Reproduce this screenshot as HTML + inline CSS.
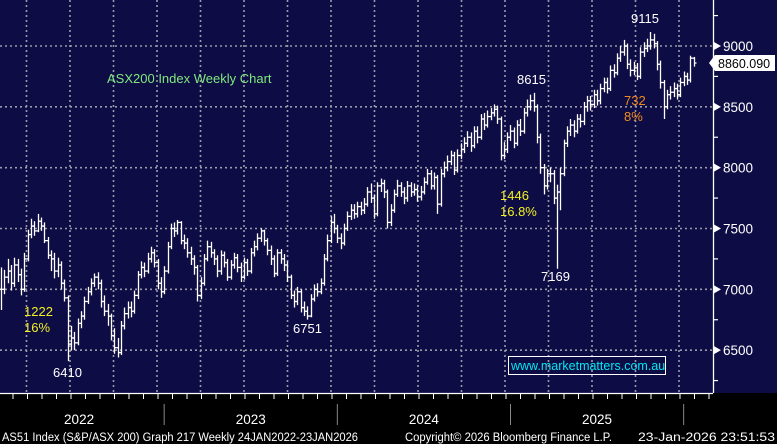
<!DOCTYPE html>
<html><head><meta charset="utf-8"><style>
html,body{margin:0;padding:0;background:#000;}
svg{display:block;font-family:"Liberation Sans",sans-serif;}
</style></head><body>
<svg id="chart" width="777" height="444" viewBox="0 0 777 444" xmlns="http://www.w3.org/2000/svg">
<rect x="0" y="0" width="777" height="444" fill="#000"/>
<rect x="0" y="0" width="777" height="393" fill="#0e0c45"/>
<g id="grid"></g>
<g id="bars"></g>
<g id="yaxis"></g>
<g id="xaxis"></g>
<text x="107" y="83" fill="#7ee87e" font-size="13">ASX200 Index Weekly Chart</text>
<text x="24" y="316" fill="#f0f020" font-size="13">1222</text>
<text x="24" y="332" fill="#f0f020" font-size="13">16%</text>
<text x="53" y="377" fill="#fff" font-size="13">6410</text>
<text x="293" y="333" fill="#fff" font-size="13">6751</text>
<text x="500" y="200" fill="#f0f020" font-size="13">1446</text>
<text x="500" y="216" fill="#f0f020" font-size="13">16.8%</text>
<text x="517" y="84" fill="#fff" font-size="13">8615</text>
<text x="541" y="281" fill="#fff" font-size="13">7169</text>
<text x="631" y="23" fill="#fff" font-size="13">9115</text>
<text x="624" y="105" fill="#f08a20" font-size="13">732</text>
<text x="624" y="121" fill="#f08a20" font-size="13">8%</text>
<g>
<rect x="508.5" y="356.5" width="157" height="18" fill="none" stroke="#fff" stroke-width="1"/>
<text x="511" y="370" fill="#00e8f0" font-size="12.5">www.marketmatters.com.au</text>
</g>
<g>
<polygon points="709,63 715,55 775,55 775,71 715,71" fill="#fff"/>
<text x="718" y="68" fill="#000" font-size="12.5">8860.090</text>
</g>
<text x="2" y="441" fill="#fff" font-size="11.5" font-family="Liberation Sans Narrow, Liberation Sans, sans-serif" textLength="356" lengthAdjust="spacingAndGlyphs">AS51 Index (S&amp;P/ASX 200) Graph 217 Weekly 24JAN2022-23JAN2026</text>
<text x="405" y="441" fill="#fff" font-size="11.5" font-family="Liberation Sans Narrow, Liberation Sans, sans-serif" textLength="207" lengthAdjust="spacingAndGlyphs">Copyright© 2026 Bloomberg Finance L.P.</text>
<text x="638" y="441" fill="#fff" font-size="11.5" font-family="Liberation Sans Narrow, Liberation Sans, sans-serif" textLength="137" lengthAdjust="spacingAndGlyphs">23-Jan-2026 23:51:53</text>
</svg>
<script>
const closes=[7000,7100,7150,7050,7200,7120,7000,7250,7450,7520,7480,7560,7520,7400,7280,7250,7150,7200,7050,6930,6550,6600,6560,6720,6780,6900,6980,7050,7100,7050,6900,6820,6780,6620,6520,6480,6700,6800,6850,6820,6950,7120,7180,7150,7250,7300,7220,7050,6980,7150,7350,7500,7480,7550,7400,7380,7300,7250,7180,6950,7050,7250,7350,7300,7250,7150,7280,7220,7100,7200,7260,7180,7100,7220,7150,7300,7350,7420,7480,7400,7320,7250,7130,7300,7250,7200,7100,6950,6900,6980,6850,6820,6780,6920,7000,6980,7050,7250,7400,7550,7500,7420,7380,7500,7600,7650,7620,7680,7650,7700,7800,7750,7620,7850,7870,7800,7550,7650,7780,7850,7800,7750,7850,7800,7820,7760,7800,7880,7950,7850,7920,7700,7950,8000,8050,8100,7980,8100,8150,8200,8250,8180,8300,8250,8400,8350,8420,8450,8480,8400,8100,8150,8250,8300,8200,8350,8300,8450,8500,8550,8500,8250,8000,7850,7950,7950,7750,7800,7950,8200,8300,8350,8300,8400,8380,8500,8550,8520,8600,8550,8650,8700,8650,8800,8780,8900,8950,9000,8850,8800,8820,8750,8950,8980,9000,9050,9020,8850,8700,8500,8600,8620,8650,8600,8700,8750,8720,8900,8860];
const highs=[7180,7160,7250,7200,7260,7250,7170,7300,7490,7580,7560,7620,7590,7550,7430,7320,7300,7260,7230,7080,6950,6700,6650,6760,6820,6940,7020,7090,7130,7140,7080,6950,6880,6800,6680,6600,6740,6850,6900,6900,6990,7150,7230,7220,7300,7350,7330,7250,7100,7190,7390,7540,7550,7570,7560,7450,7420,7350,7280,7200,7100,7290,7400,7390,7330,7280,7320,7310,7250,7240,7300,7290,7220,7260,7250,7340,7400,7460,7500,7490,7420,7360,7280,7330,7330,7290,7230,7120,6990,7020,7000,6900,6860,6960,7040,7050,7090,7290,7450,7600,7620,7530,7460,7540,7640,7700,7700,7720,7720,7750,7840,7870,7780,7880,7910,7900,7820,7700,7820,7900,7880,7840,7890,7880,7870,7860,7850,7920,7990,7980,7960,7940,7990,8050,8100,8140,8130,8150,8200,8250,8300,8290,8340,8340,8440,8450,8470,8490,8520,8510,8420,8210,8290,8350,8330,8390,8400,8490,8560,8600,8615,8520,8280,8030,7990,8000,7980,7860,8000,8230,8340,8400,8390,8440,8440,8540,8590,8590,8640,8640,8690,8740,8740,8840,8850,8940,9000,9050,9020,8890,8870,8860,8990,9030,9060,9115,9100,9040,8880,8720,8640,8670,8700,8690,8740,8790,8780,8920,8910];
const lows=[6830,6960,7050,6990,7020,7060,6950,6980,7230,7420,7440,7470,7480,7380,7250,7150,7090,7100,7000,6900,6410,6500,6500,6540,6680,6750,6880,6950,7020,7000,6850,6780,6700,6580,6470,6440,6460,6670,6760,6770,6800,6920,7090,7100,7130,7220,7180,7000,6930,6960,7130,7330,7430,7450,7370,7330,7260,7200,7120,6900,6920,7030,7230,7260,7200,7100,7120,7180,7070,7080,7170,7140,7060,7080,7110,7130,7270,7320,7390,7360,7280,7200,7100,7110,7210,7150,7060,6920,6850,6870,6810,6780,6751,6770,6900,6940,6960,7030,7230,7380,7460,7380,7330,7360,7480,7570,7580,7590,7610,7620,7680,7710,7580,7600,7800,7750,7500,7520,7630,7760,7760,7700,7720,7760,7770,7720,7730,7780,7860,7820,7820,7620,7680,7920,7970,8020,7940,7960,8070,8120,8170,8130,8160,8200,8230,8310,8330,8390,8420,8360,8060,8070,8120,8220,8160,8180,8260,8280,8420,8470,8460,8200,7950,7780,7820,7880,7700,7169,7650,7930,8170,8260,8250,8280,8330,8350,8460,8470,8490,8510,8520,8620,8610,8630,8740,8760,8870,8920,8810,8750,8760,8720,8730,8910,8950,8970,8980,8800,8650,8400,8480,8560,8580,8560,8580,8670,8680,8700,8830];
const yTicks=[6500,7000,7500,8000,8500,9000];
const yMinorTicks=[6250,6750,7250,7750,8250,8750,9250];
const years=["2022","2023","2024","2025"];
const yearStartWeeks=[-3,49,101,153,205];

const NS="http://www.w3.org/2000/svg";
const yOf=v=>46+(9000-v)*0.12166;
const xOf=i=>1+i*3.33;
function mk(tag,attrs,parent){const e=document.createElementNS(NS,tag);for(const k in attrs)e.setAttribute(k,attrs[k]);parent.appendChild(e);return e;}
const grid=document.getElementById('grid'),bars=document.getElementById('bars'),ya=document.getElementById('yaxis'),xa=document.getElementById('xaxis');
// horizontal grid
yTicks.forEach(v=>{const l=mk('line',{x1:0,x2:713,y1:yOf(v),y2:yOf(v),stroke:'#9a9aa8','stroke-width':1.6,'stroke-dasharray':'2,3'},grid);

});
// vertical grid
for(let k=0;k<16;k++){const x=26.5+k*43.5;const l=mk('line',{x1:x,x2:x,y1:0,y2:393,stroke:'#9a9aa8','stroke-width':1.6,'stroke-dasharray':'2,3'},grid);

}
// bars
for(let i=0;i<closes.length;i++){const x=Math.round(xOf(i))+0.5;const o=i>0?closes[i-1]:closes[i];
const g=mk('g',{stroke:'#fff','stroke-width':1.3,fill:'none'},bars);


mk('line',{x1:x,x2:x,y1:yOf(highs[i]),y2:yOf(lows[i])},g);
mk('line',{x1:x-2,x2:x,y1:yOf(o),y2:yOf(o)},g);
mk('line',{x1:x,x2:x+2,y1:yOf(closes[i]),y2:yOf(closes[i])},g);}
// y axis
mk('line',{x1:713.5,x2:713.5,y1:0,y2:393,stroke:'#fff','stroke-width':1.3},ya);
yTicks.forEach(v=>{const y=yOf(v);mk('polygon',{points:`714,${y-4} 721,${y} 714,${y+4}`,fill:'#fff'},ya);
const t=mk('text',{x:723,y:y+5,fill:'#fff','font-size':13.5},ya);t.textContent=v;

});
yMinorTicks.forEach(v=>{const y=yOf(v);if(y>0&&y<393)mk('line',{x1:714,x2:718,y1:y,y2:y,stroke:'#fff','stroke-width':1.2},ya);});
// x axis
mk('line',{x1:0,x2:713,y1:393.5,y2:393.5,stroke:'#fff','stroke-width':1.3},xa);
for(let x=13;x<713;x+=14.5)mk('line',{x1:x,x2:x,y1:394,y2:399,stroke:'#fff','stroke-width':1},xa);
yearStartWeeks.forEach((w,k)=>{const x=xOf(w);if(k>0)mk('line',{x1:x,x2:x,y1:404,y2:425,stroke:'#888','stroke-width':1},xa);
if(k<years.length){const xm=(Math.max(0,x)+xOf(yearStartWeeks[k+1]))/2+(k===0?-3:0);const t=mk('text',{x:xm,y:424,fill:'#fff','font-size':13.5,'text-anchor':'middle'},xa);t.textContent=years[k];

}});
</script>
</body></html>
